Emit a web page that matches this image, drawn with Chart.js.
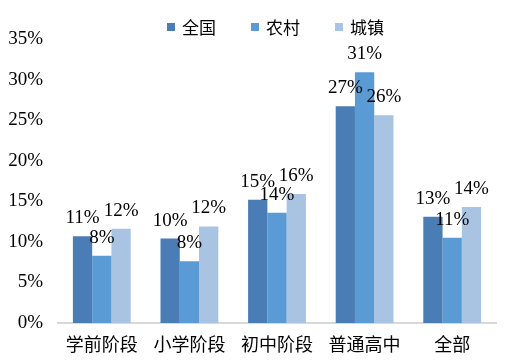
<!DOCTYPE html>
<html>
<head>
<meta charset="utf-8">
<script src="https://cdn.jsdelivr.net/npm/chart.js@4.4.0/dist/chart.umd.min.js"></script>
<style>
  html, body { margin: 0; padding: 0; background: #fff; }
  #wrap { width: 523px; height: 361px; }
</style>
</head>
<body>
<div id="wrap"><canvas id="chart" width="523" height="361"></canvas></div>
<script>
// Chart data
const categories = ['学前阶段', '小学阶段', '初中阶段', '普通高中', '全部'];
const seriesNames = ['全国', '农村', '城镇'];
const nationalValues = [10.7, 10.4, 15.2, 26.7, 13.1];
const ruralValues = [8.3, 7.6, 13.6, 30.9, 10.5];
const urbanValues = [11.6, 11.9, 15.9, 25.6, 14.3];
const seriesColors = ['#4a7db5', '#5b9bd5', '#a9c3e3'];
const yTicks = [0, 5, 10, 15, 20, 25, 30, 35];

const serif = '"Liberation Serif", "Noto Sans CJK SC", serif';

// Labels above each bar
const barLabels = {
    id: 'barLabels',
    afterDatasetsDraw(chart) {
        const ctx = chart.ctx;
        ctx.save();
        ctx.font = '19px ' + serif;
        ctx.fillStyle = '#000';
        ctx.textAlign = 'center';
        ctx.textBaseline = 'middle';
        chart.data.datasets.forEach((ds, i) => {
            chart.getDatasetMeta(i).data.forEach((bar, j) => {
                ctx.fillText(Math.round(ds.data[j]) + '%', bar.x, bar.y - 18);
            });
        });
        ctx.restore();
    }
};

// Legend drawn by hand so it can sit over the plot top
const topLegend = {
    id: 'topLegend',
    afterDraw(chart) {
        const ctx = chart.ctx;
        const startX = 167;
        const step = 84;
        ctx.save();
        ctx.font = '17px ' + serif;
        ctx.textBaseline = 'middle';
        ctx.textAlign = 'left';
        chart.data.datasets.forEach((ds, i) => {
            const x = startX + i * step;
            ctx.fillStyle = ds.backgroundColor;
            ctx.fillRect(x, 23, 8, 8);
            ctx.fillStyle = '#000';
            ctx.fillText(ds.label, x + 15, 30);
        });
        ctx.restore();
    }
};

const valueSets = [nationalValues, ruralValues, urbanValues];

new Chart(document.getElementById('chart'), {
    type: 'bar',
    data: {
        labels: categories,
        datasets: seriesNames.map((name, i) => ({
            label: name,
            data: valueSets[i],
            backgroundColor: seriesColors[i],
            borderWidth: 0,
            barPercentage: 1,
            categoryPercentage: 0.66
        }))
    },
    options: {
        responsive: false,
        animation: false,
        layout: { padding: { top: 39, right: 27, bottom: 0, left: 0 } },
        plugins: {
            legend: { display: false },
            tooltip: { enabled: false }
        },
        scales: {
            x: {
                grid: { display: false, drawTicks: false },
                border: { display: true, color: '#d9d9d9', width: 2 },
                ticks: {
                    color: '#000',
                    font: { family: serif, size: 18 },
                    padding: 12,
                    maxRotation: 0
                },
                afterFit(scale) { scale.height = 38; }
            },
            y: {
                min: 0,
                max: 35,
                grid: { display: false, drawTicks: false },
                border: { display: false },
                afterBuildTicks(scale) {
                    scale.ticks = yTicks.map(v => ({ value: v }));
                },
                ticks: {
                    color: '#000',
                    font: { family: serif, size: 19 },
                    padding: 15,
                    callback: v => v + '%'
                },
                afterFit(scale) { scale.width = 58; }
            }
        }
    },
    plugins: [barLabels, topLegend]
});
</script>
</body>
</html>
